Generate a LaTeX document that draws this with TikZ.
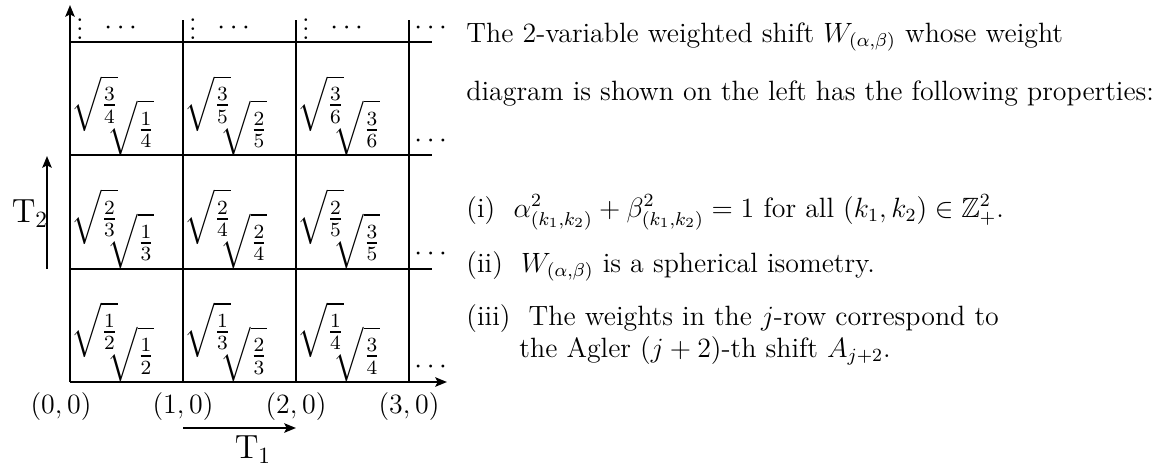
\documentclass[12pt,tikz,border=0pt]{standalone}
\usepackage{amsmath,amssymb,graphicx}
\usetikzlibrary{arrows.meta,calc}
\newcommand{\wlab}[2]{\scalebox{1.08}{$\sqrt{\genfrac{}{}{0.8pt}{1}{#1}{#2}\rule[-6pt]{0pt}{18pt}}$}}
\tikzset{
  gridline/.style={line width=1.1pt},
  axisarrow/.style={line width=1.1pt,-{Stealth[length=5pt,width=4pt,inset=1pt]}},
  wt/.style={inner sep=0pt, outer sep=0pt},
  body/.style={anchor=base west, inner sep=0pt},
  lab/.style={inner sep=0pt},
}
\begin{document}
\begin{tikzpicture}[x=0.43pt,y=-0.43pt]
\useasboundingbox (0,0) rectangle (1163,466);
% grid points
\foreach \i/\x in {0/70,1/183,2/296,3/409}{
  \foreach \j/\y in {0/382,1/269,2/155,3/42}{
    \coordinate (p\i\j) at (\x,\y);
  }
}
\coordinate (xend) at (447,382);
\coordinate (yend) at (70,5);
% axes
\draw[axisarrow] (p00) -- (xend);
\draw[axisarrow] (p00) -- (yend);
% horizontal grid lines
\foreach \j in {1,2,3}{
  \coordinate (hr\j) at ($(p3\j)+(23,0)$);
}
\draw[gridline] (p01) -- (hr1);
\draw[gridline] (p02) -- (hr2);
\draw[gridline] (p03) -- (hr3);
% vertical grid lines
\foreach \i in {1,2,3}{
  \coordinate (vt\i) at ($(p\i3)+(0,-22)$);
  \draw[gridline] (p\i0) -- (vt\i);
}
% weights
\foreach \i in {0,1,2}{
  \foreach \j in {0,1,2}{
    \pgfmathsetmacro\X{70+113*\i}
    \pgfmathsetmacro\Y{382-113.33*\j}
    \pgfmathtruncatemacro\a{\i+1}
    \pgfmathtruncatemacro\b{\j+1}
    \pgfmathtruncatemacro\d{\i+\j+2}
    \node[wt,anchor=south] (h\i\j) at (\X+61,\Y) {\wlab{\a}{\d}};
    \node[wt,anchor=west] (v\i\j) at (\X+1,\Y-52) {\wlab{\b}{\d}};
  }
}
% dots in top row
\foreach \i/\x in {0/70,1/183,2/296}{
  \node[lab] (vd\i) at (\x+10,22) {$\vdots$};
  \node[lab] (hd\i) at (\x+53,28) {$\cdots$};
}
\node[lab] (hd3) at (433,28) {$\cdots$};
\node[lab] (rd2) at (433,141) {$\cdots$};
\node[lab] (rd1) at (433,254) {$\cdots$};
\node[lab] (rd0) at (433,367) {$\cdots$};
% coordinate labels
\node[lab] (c0) at (61,407) {$(0,0)$};
\node[lab] (c1) at (183,407) {$(1,0)$};
\node[lab] (c2) at (296,407) {$(2,0)$};
\node[lab] (c3) at (409,407) {$(3,0)$};
% T arrows
\coordinate (t1a) at (183,428);
\coordinate (t1b) at (296,428);
\draw[axisarrow] (t1a) -- (t1b);
\node[lab] (T1) at (253,450) {\large$\mathrm{T}_1$};
\coordinate (t2a) at (47,269);
\coordinate (t2b) at (47,156);
\draw[axisarrow] (t2a) -- (t2b);
\node[lab] (T2) at (30,214) {\large$\mathrm{T}_2$};
% text
\node[body] (l1) at (466,42) {The 2-variable weighted shift $W_{(\alpha,\beta)}$ whose weight};
\node[body] (l2) at (466,100) {diagram is shown on the left has the following properties:};
\node[body] (l3) at (466,217) {(i)\ \ $\alpha^2_{(k_1,k_2)}+\beta^2_{(k_1,k_2)}=1$ for all $(k_1,k_2)\in\mathbb{Z}^2_+$.};
\node[body] (l4) at (466,272) {(ii)\ \ $W_{(\alpha,\beta)}$ is a spherical isometry.};
\node[body] (l5) at (466,325) {(iii)\ \ The weights in the $j$-row correspond to};
\node[body] (l6) at (519,357) {the Agler $(j+2)$-th shift $A_{j+2}$.};
\end{tikzpicture}
\end{document}
